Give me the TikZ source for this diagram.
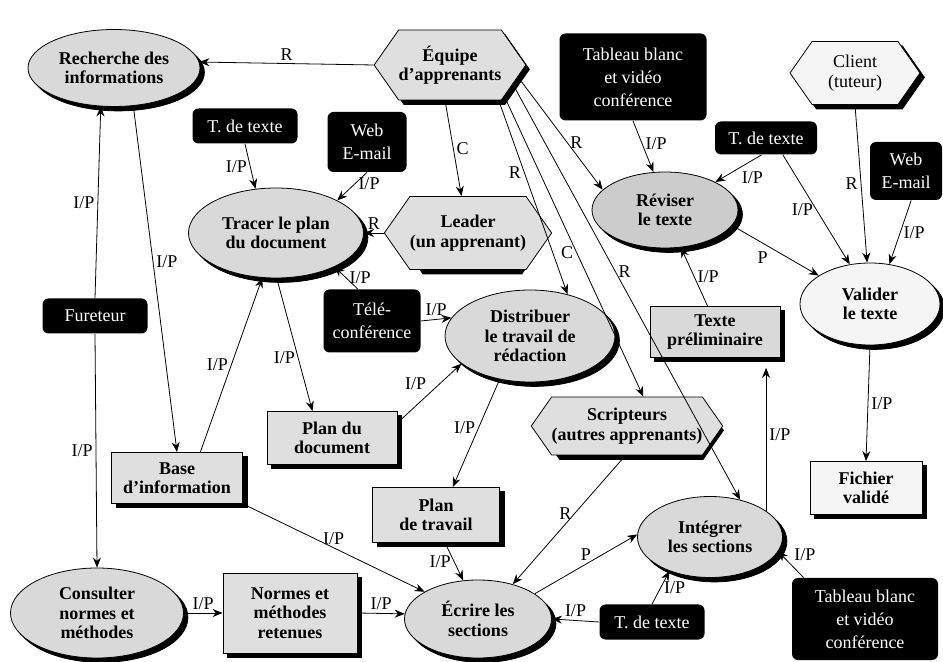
\documentclass[tikz,border=0pt]{standalone}
\usepackage{fontspec}
\setmainfont{Liberation Serif}
\usepackage{tikz}
\usetikzlibrary{shapes.geometric,shapes.symbols,arrows.meta}

\newcommand{\IP}{I/P}
% noeud avec ombre portee noire
\newcommand{\boite}[4][]{%
	\node[#1,fill=black,draw=black] at ([shift={(2.2pt,-2.2pt)}]#3) {};
	\node[#1] (#2) at (#3) {#4};}

\tikzset{
	proc/.style={ellipse,draw,fill=gray!30,align=center,inner sep=0pt,
		font=\bfseries\fontsize{9}{9.8}\selectfont},
	conc/.style={rectangle,draw,fill=gray!25,align=center,inner sep=0pt,
		font=\bfseries\fontsize{9}{9.8}\selectfont},
	acteur/.style={signal,signal to=west and east,signal pointer angle=110,draw,
		fill=gray!25,align=center,inner sep=0pt,
		font=\bfseries\fontsize{9}{9.8}\selectfont},
	outil/.style={rectangle,rounded corners=3pt,fill=black,text=white,align=center,
		inner sep=0pt,font=\fontsize{9}{11.5}\selectfont},
	lbl/.style={font=\fontsize{9}{10}\selectfont,inner sep=1.5pt},
	arr/.style={-{Stealth[length=5pt,width=4pt]}}
}

\begin{document}
\begin{tikzpicture}[x=0.5pt,y=-0.5pt]
	\useasboundingbox (0,0) rectangle (943,662);
	
	% processus
	\boite[proc,minimum width=86pt,minimum height=38.5pt]{rech}{114,68}{Recherche des\\informations}
	\boite[proc,minimum width=87.5pt,minimum height=45pt]{tr}{276,233}{Tracer le plan\\du document}
	\boite[proc,minimum width=85pt,minimum height=46pt]{dist}{530,336}{Distribuer\\le travail de\\rédaction}
	\boite[proc,fill=gray!40,minimum width=73pt,minimum height=38pt]{rev}{665,210}{Réviser\\le texte}
	\boite[proc,fill=gray!8,minimum width=70pt,minimum height=41pt]{val}{870,304}{Valider\\le texte}
	\boite[proc,minimum width=72.5pt,minimum height=40.5pt]{integ}{710,537}{Intégrer\\les sections}
	\boite[proc,minimum width=86.5pt,minimum height=45pt]{cons}{97,613}{Consulter\\normes et\\méthodes}
	\boite[proc,minimum width=73.5pt,minimum height=39pt]{ecr}{478,619}{Écrire les\\sections}
	
	% acteurs
	\boite[acteur,minimum width=75pt,minimum height=35pt]{equipe}{450,65}{Équipe\\d'apprenants}
	\boite[acteur,minimum width=75pt,minimum height=36.5pt]{leader}{468,233}{Leader\\(un apprenant)}
	\boite[acteur,minimum width=92pt,minimum height=29pt]{scrip}{627,426}{Scripteurs\\(autres apprenants)}
	\boite[acteur,fill=gray!8,font=\fontsize{9}{9.8}\selectfont,minimum width=65pt,minimum height=31.5pt]{client}{855,73}{Client\\(tuteur)}
	
	% concepts
	\boite[conc,fill=gray!30,minimum width=65pt,minimum height=25.5pt]{tprel}{715,332}{Texte\\préliminaire}
	\boite[conc,minimum width=65pt,minimum height=26.5pt]{pdoc}{332,438}{Plan du\\document}
	\boite[conc,minimum width=65.5pt,minimum height=25.5pt]{base}{177,478}{Base\\d'information}
	\boite[conc,minimum width=63.5pt,minimum height=27.5pt]{ptrav}{436,515}{Plan\\de travail}
	\boite[conc,fill=gray!8,minimum width=56pt,minimum height=26.5pt]{fich}{866,488}{Fichier\\validé}
	\boite[conc,minimum width=67pt,minimum height=40pt]{normes}{290,613}{Normes et\\méthodes\\retenues}
	
	% outils
	\node[outil,minimum width=73.5pt,minimum height=43.5pt] (tab1) at (633,77) {Tableau blanc\\et vidéo\\conférence};
	\node[outil,minimum width=73pt,minimum height=41pt] (tab2) at (865,619) {Tableau blanc\\et vidéo\\conférence};
	\node[outil,minimum width=52.5pt,minimum height=17.5pt] (tdt1) at (245,126) {T. de texte};
	\node[outil,minimum width=51pt,minimum height=16.5pt] (tdt2) at (766,138) {T. de texte};
	\node[outil,minimum width=52.5pt,minimum height=17.5pt] (tdt3) at (652,622) {T. de texte};
	\node[outil,minimum width=39.5pt,minimum height=30pt] (web1) at (367,142) {Web\\E-mail};
	\node[outil,minimum width=36pt,minimum height=29pt] (web2) at (906,171) {Web\\E-mail};
	\node[outil,minimum width=48.5pt,minimum height=31.5pt] (tele) at (372,321) {Télé-\\conférence};
	\node[outil,minimum width=52.5pt,minimum height=17.5pt] (fur) at (95,316) {Fureteur};
	
	% liens
	\foreach \a/\b/\l/\s/\p in
	{equipe.west/rech.4/R/above/0.5, equipe.-98/leader.100/C/right/0.5,
	 equipe.-36/dist.48/R/left/0.37, equipe.-30/scrip.61/C/left/0.52,
	 equipe.-17/integ.51/R/right/0.45, equipe.-10/rev.162/R/right/0.58,
	 fur.north/rech.251/\IP/left/0.5, fur.south/cons.north/\IP/left/0.5,
	 rech.-63/base.north/\IP/right/0.45, base.48/tr.-107/\IP/left/0.5,
	 tr.-89/pdoc.126/\IP/left/0.6, tdt1.south/tr.115/\IP/left/0.5,
	 web1.south/tr.28/\IP/right/0.4, leader.west/tr.east/R/above/0.5,
	 tele.114/tr.-30/\IP/right/0.5, tele.east/dist.167/\IP/above/0.5,
	 pdoc.13/dist.202/\IP/above left/0.5, dist.-125/ptrav.59/\IP/left/0.45,
	 ptrav.-72/ecr.111/\IP/left/0.5, base.south east/ecr.153/\IP/above/0.5,
	 cons.east/normes.west/\IP/above/0.5, normes.east/ecr.176/\IP/above/0.5,
	 scrip.-93/ecr.45/R/left/0.45, ecr.24/integ.178/P/above/0.5,
	 tdt3.west/ecr.east/\IP/above/0.5, tdt3.north/integ.220/\IP/right/0.5,
	 tab2.146/integ.-12/\IP/above right/0.5, tprel.106/rev.-67/\IP/right/0.5,
	 tab1.south/rev.107/\IP/right/0.45, tdt2.-105/rev.29/\IP/below right/0.5,
	 tdt2.-45/val.117/\IP/left/0.5, client.south/val.94/R/left/0.5,
	 web2.-80/val.64/\IP/right/0.5, rev.-13/val.151/P/below left/0.45,
	 val.south/fich.north/\IP/right/0.5}{
		\draw[arr] (\a) -- node[lbl,\s,pos=\p] {\l} (\b);
	}
	\draw[arr,shorten >=5pt] (integ.25) -- node[lbl,right] {\IP} (integ.25 |- tprel.south);
\end{tikzpicture}
\end{document}
